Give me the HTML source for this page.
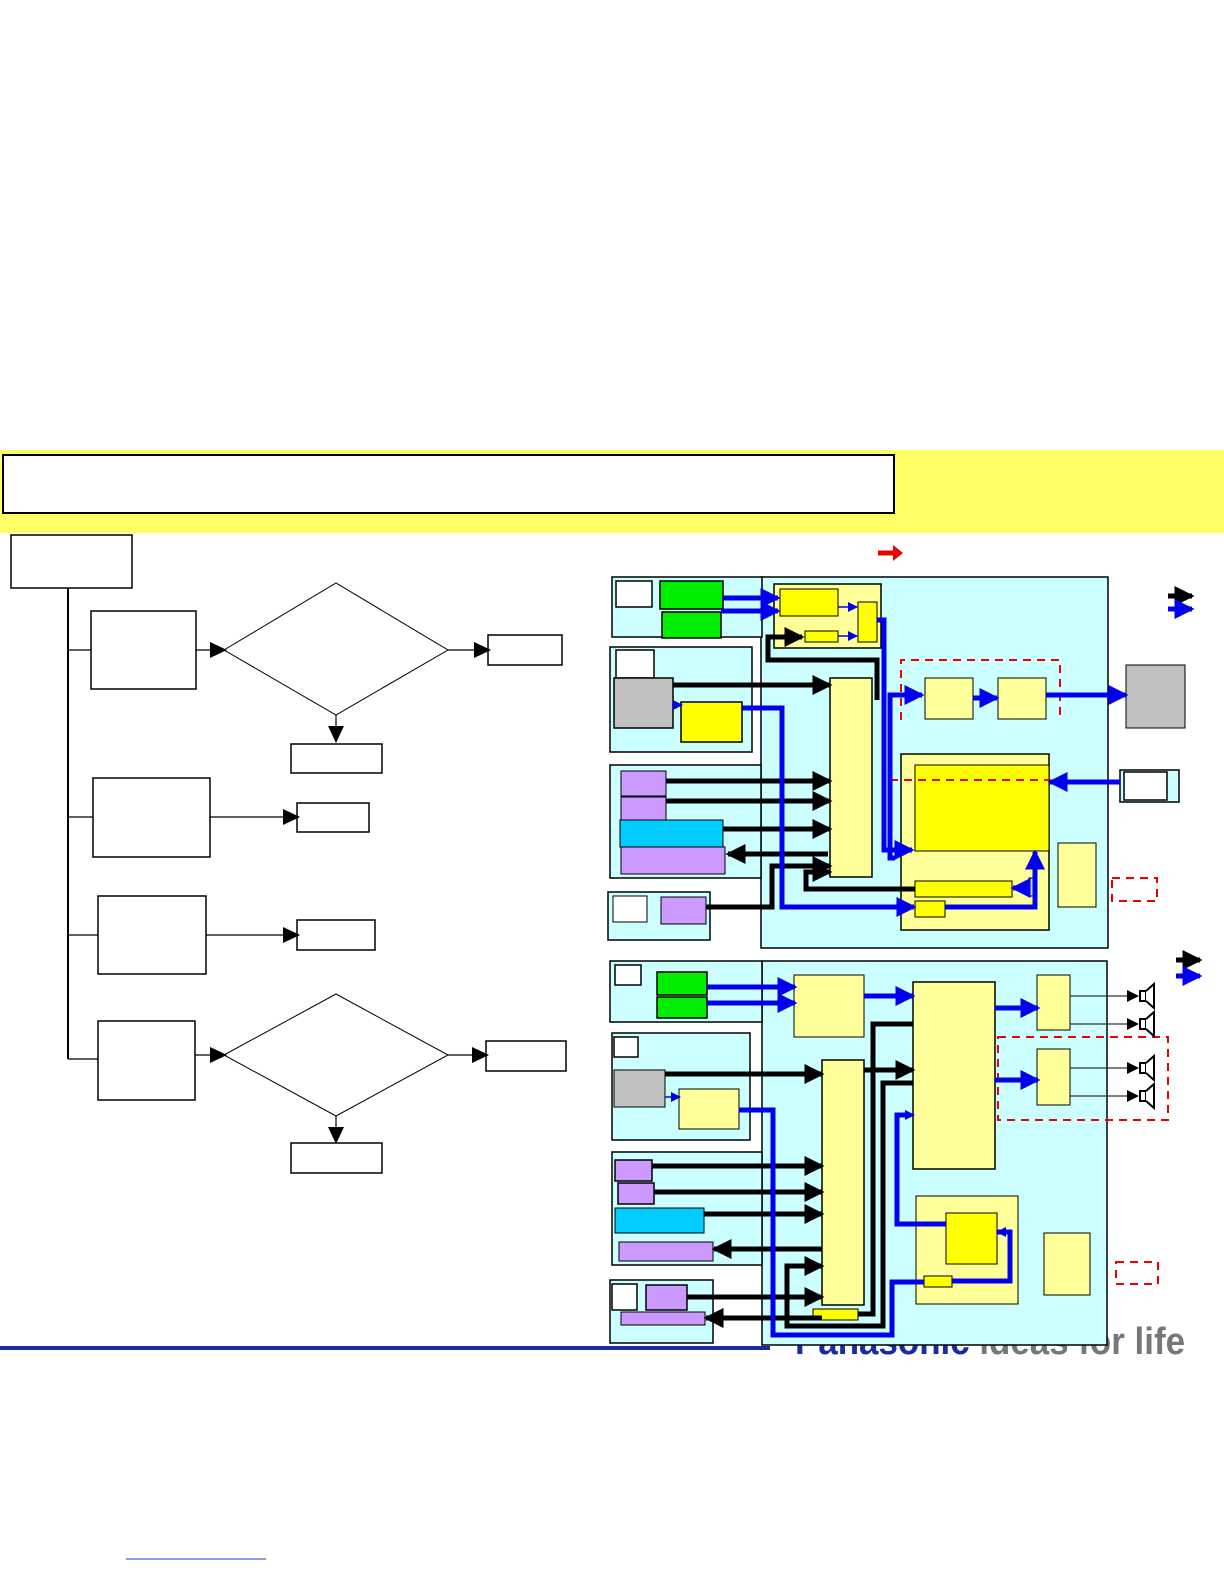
<!DOCTYPE html>
<html><head><meta charset="utf-8"><style>
html,body{margin:0;padding:0;background:#fff;}
svg{display:block;font-family:"Liberation Sans",sans-serif;}
</style></head><body>
<svg width="1224" height="1584" viewBox="0 0 1224 1584" xmlns="http://www.w3.org/2000/svg">
<defs>
<marker id="ak" markerWidth="4" markerHeight="4" refX="3.5" refY="2" orient="auto" markerUnits="strokeWidth"><path d="M0,0 L4,2 L0,4 z" fill="#000"/></marker>
<marker id="ab" markerWidth="4" markerHeight="4" refX="3.5" refY="2" orient="auto" markerUnits="strokeWidth"><path d="M0,0 L4,2 L0,4 z" fill="#0000ee"/></marker>
<marker id="at" markerWidth="12" markerHeight="12" refX="11" refY="6" orient="auto" markerUnits="userSpaceOnUse"><path d="M0,0 L12,6 L0,12 z" fill="#000"/></marker>
<marker id="abt" markerWidth="10" markerHeight="10" refX="9" refY="5" orient="auto" markerUnits="userSpaceOnUse"><path d="M0,0 L10,5 L0,10 z" fill="#0000ee"/></marker>
<marker id="af" markerWidth="18" markerHeight="18" refX="16" refY="9" orient="auto" markerUnits="userSpaceOnUse"><path d="M0,1 L17,9 L0,17 z" fill="#000"/></marker>
</defs>

<rect x="0" y="450" width="1224" height="83" fill="#ffff66"/>
<rect x="3" y="455" width="891" height="58" fill="#fff" stroke="#000" stroke-width="2"/>

<g fill="#fff" stroke="#000" stroke-width="1.5">
<rect x="11" y="535" width="121" height="53"/>
<rect x="91" y="611" width="105" height="78"/>
<rect x="93" y="778" width="117" height="79"/>
<rect x="98" y="896" width="108" height="78"/>
<rect x="98" y="1021" width="97" height="79"/>
<rect x="488" y="635" width="74" height="30"/>
<rect x="291" y="744" width="91" height="29"/>
<rect x="297" y="803" width="72" height="29"/>
<rect x="297" y="920" width="78" height="30"/>
<rect x="486" y="1041" width="80" height="30"/>
<rect x="291" y="1143" width="91" height="30"/>
<polygon points="224,650 336,583 448,650 336,715" stroke-width="1"/>
<polygon points="224,1055 336,994 448,1055 336,1116" stroke-width="1"/>
</g>
<g stroke="#000" stroke-width="1.2" fill="none">
<line x1="68" y1="588" x2="68" y2="1059" stroke-width="2"/>
<line x1="68" y1="650" x2="91" y2="650"/>
<line x1="68" y1="817" x2="93" y2="817"/>
<line x1="68" y1="935" x2="98" y2="935"/>
<line x1="68" y1="1059" x2="98" y2="1059"/>
<line x1="196" y1="650" x2="226" y2="650" marker-end="url(#af)"/>
<line x1="448" y1="650" x2="490" y2="650" marker-end="url(#af)"/>
<line x1="336" y1="715" x2="336" y2="742" marker-end="url(#af)"/>
<line x1="210" y1="817" x2="299" y2="817" marker-end="url(#af)"/>
<line x1="206" y1="935" x2="299" y2="935" marker-end="url(#af)"/>
<line x1="195" y1="1055" x2="226" y2="1055" marker-end="url(#af)"/>
<line x1="448" y1="1055" x2="488" y2="1055" marker-end="url(#af)"/>
<line x1="336" y1="1116" x2="336" y2="1143" marker-end="url(#af)"/>
</g>

<line x1="0" y1="1348" x2="770" y2="1348" stroke="#1a2aa0" stroke-width="4"/>
<text x="795" y="1354" font-size="38" font-weight="bold" fill="#1a2aa0" textLength="390" lengthAdjust="spacingAndGlyphs">Panasonic <tspan fill="#777">ideas for life</tspan></text>
<line x1="126" y1="1559" x2="266" y2="1559" stroke="#2233cc" stroke-width="1"/>

<line x1="878" y1="553" x2="894" y2="553" stroke="#ee0000" stroke-width="5"/>
<path d="M893,545 L903,553 L893,561z" fill="#ee0000"/>
<line x1="1168" y1="596" x2="1192" y2="596" stroke="#000" stroke-width="5" marker-end="url(#ak)"/>
<line x1="1168" y1="609" x2="1192" y2="609" stroke="#0000ee" stroke-width="5" marker-end="url(#ab)"/>
<line x1="1176" y1="960" x2="1200" y2="960" stroke="#000" stroke-width="5" marker-end="url(#ak)"/>
<line x1="1176" y1="976" x2="1200" y2="976" stroke="#0000ee" stroke-width="5" marker-end="url(#ab)"/>

<!-- TOP DIAGRAM -->
<rect x="761" y="577" width="347" height="371" fill="#ccffff" stroke="#000" stroke-width="1.5"/>
<g stroke="#000" stroke-width="1.5" fill="#ccffff">
<rect x="612" y="577" width="150" height="60"/>
<rect x="610" y="647" width="142" height="105"/>
<rect x="610" y="765" width="151" height="113"/>
<rect x="608" y="892" width="102" height="48"/>
<rect x="1120" y="770" width="59" height="32"/>
</g>
<g stroke="#000" stroke-width="1.5">
<rect x="616" y="581" width="36" height="26" fill="#fff"/>
<rect x="660" y="581" width="63" height="28" fill="#00ee00"/>
<rect x="662" y="612" width="59" height="26" fill="#00ee00"/>
<rect x="616" y="650" width="38" height="28" fill="#fff"/>
<rect x="614" y="678" width="59" height="50" fill="#c0c0c0"/>
<rect x="681" y="702" width="61" height="40" fill="#ffff00"/>
<rect x="621" y="771" width="45" height="25" fill="#cc99ff" stroke-width="1"/>
<rect x="621" y="797" width="45" height="23" fill="#cc99ff" stroke-width="1"/>
<rect x="620" y="820" width="103" height="27" fill="#00ccff" stroke-width="1"/>
<rect x="621" y="847" width="104" height="27" fill="#cc99ff" stroke-width="1"/>
<rect x="613" y="896" width="34" height="26" fill="#fff" stroke-width="1"/>
<rect x="661" y="897" width="45" height="27" fill="#cc99ff" stroke-width="1"/>
<rect x="774" y="584" width="107" height="64" fill="#ffff99"/>
<rect x="780" y="589" width="58" height="27" fill="#ffff00" stroke-width="1"/>
<rect x="805" y="631" width="33" height="11" fill="#ffff00" stroke-width="1"/>
<rect x="858" y="602" width="19" height="40" fill="#ffff00" stroke-width="1"/>
<rect x="830" y="678" width="42" height="199" fill="#ffff99"/>
<rect x="925" y="678" width="48" height="41" fill="#ffff99" stroke-width="1"/>
<rect x="998" y="678" width="48" height="41" fill="#ffff99" stroke-width="1"/>
<rect x="1126" y="665" width="59" height="63" fill="#c0c0c0" stroke-width="1"/>
<rect x="901" y="754" width="148" height="176" fill="#ffff99"/>
<rect x="915" y="765" width="134" height="86" fill="#ffff00" stroke-width="1"/>
<rect x="1124" y="772" width="43" height="28" fill="#fff"/>
<rect x="915" y="881" width="97" height="16" fill="#ffff00" stroke-width="1"/>
<rect x="1029" y="878" width="8" height="18" fill="#ccc" stroke-width="1"/>
<rect x="915" y="901" width="30" height="16" fill="#ffff00" stroke-width="1"/>
<rect x="1058" y="843" width="38" height="64" fill="#ffff99" stroke-width="1"/>
</g>
<g fill="none" stroke="#ee0000" stroke-width="2" stroke-dasharray="8,6">
<path d="M901,720 L901,660 L1060,660 L1060,720"/>
<line x1="890" y1="780" x2="1049" y2="780"/>
<rect x="1112" y="878" width="45" height="23"/>
</g>
<g fill="none" stroke="#000" stroke-width="5">
<line x1="673" y1="685" x2="830" y2="685" marker-end="url(#ak)"/>
<line x1="666" y1="781" x2="830" y2="781" marker-end="url(#ak)"/>
<line x1="666" y1="801" x2="830" y2="801" marker-end="url(#ak)"/>
<line x1="723" y1="829" x2="830" y2="829" marker-end="url(#ak)"/>
<line x1="828" y1="854" x2="728" y2="854" marker-end="url(#ak)"/>
<path d="M706,907 L772,907 L772,866 L830,866" marker-end="url(#ak)"/>
<path d="M915,889 L806,889 L806,872 L830,872" marker-end="url(#ak)"/>
<path d="M877,700 L877,660 L768,660 L768,637 L802,637" marker-end="url(#ak)"/>
</g>
<g fill="none" stroke="#0000ee" stroke-width="5">
<line x1="723" y1="598" x2="778" y2="598" marker-end="url(#ab)"/>
<line x1="721" y1="611" x2="778" y2="611" marker-end="url(#ab)"/>
<path d="M877,620 L884,620 L884,850 L912,850" marker-end="url(#ab)"/>
<path d="M742,708 L782,708 L782,907 L914,907" marker-end="url(#ab)"/>
<path d="M895,858 L890,858 L890,695 L922,695" marker-end="url(#ab)"/>
<line x1="973" y1="698" x2="997" y2="698" marker-end="url(#ab)"/>
<line x1="1046" y1="695" x2="1126" y2="695" marker-end="url(#ab)"/>
<line x1="1120" y1="782" x2="1050" y2="782" marker-end="url(#ab)"/>
<path d="M945,907 L1035,907 L1035,852" marker-end="url(#ab)"/>
<line x1="1029" y1="888" x2="1013" y2="888" marker-end="url(#ab)"/>
</g>
<g stroke="#0000ee" stroke-width="1.5">
<line x1="838" y1="607" x2="857" y2="607" marker-end="url(#abt)"/>
<line x1="838" y1="636" x2="857" y2="636" marker-end="url(#abt)"/>
<line x1="673" y1="705" x2="682" y2="705" marker-end="url(#abt)"/>
</g>

<!-- BOTTOM DIAGRAM -->
<rect x="762" y="961" width="345" height="384" fill="#ccffff" stroke="#000" stroke-width="1.5"/>
<g stroke="#000" stroke-width="1.5" fill="#ccffff">
<rect x="610" y="961" width="152" height="61"/>
<rect x="612" y="1033" width="138" height="107"/>
<rect x="612" y="1152" width="150" height="113"/>
<rect x="610" y="1280" width="103" height="63"/>
</g>
<g stroke="#000" stroke-width="1.5">
<rect x="615" y="965" width="26" height="20" fill="#fff"/>
<rect x="657" y="972" width="50" height="23" fill="#00ee00"/>
<rect x="657" y="997" width="50" height="21" fill="#00ee00"/>
<rect x="614" y="1037" width="24" height="20" fill="#fff"/>
<rect x="614" y="1070" width="51" height="37" fill="#c0c0c0" stroke-width="1"/>
<rect x="679" y="1089" width="60" height="40" fill="#ffff99" stroke-width="1"/>
<rect x="615" y="1160" width="37" height="21" fill="#cc99ff"/>
<rect x="618" y="1183" width="36" height="21" fill="#cc99ff"/>
<rect x="615" y="1208" width="89" height="25" fill="#00ccff" stroke-width="1"/>
<rect x="619" y="1242" width="94" height="19" fill="#cc99ff" stroke-width="1"/>
<rect x="612" y="1284" width="25" height="26" fill="#fff"/>
<rect x="646" y="1285" width="41" height="25" fill="#cc99ff"/>
<rect x="621" y="1312" width="84" height="13" fill="#cc99ff" stroke-width="1"/>
<rect x="794" y="975" width="70" height="62" fill="#ffff99" stroke-width="1"/>
<rect x="822" y="1060" width="42" height="245" fill="#ffff99"/>
<rect x="913" y="982" width="82" height="187" fill="#ffff99"/>
<rect x="1037" y="975" width="33" height="55" fill="#ffff99" stroke-width="1"/>
<rect x="1037" y="1049" width="33" height="56" fill="#ffff99" stroke-width="1"/>
<rect x="916" y="1196" width="102" height="108" fill="#ffff99" stroke-width="1"/>
<rect x="946" y="1213" width="51" height="51" fill="#ffff00" stroke-width="1"/>
<rect x="924" y="1276" width="28" height="11" fill="#ffff00" stroke-width="1"/>
<rect x="1044" y="1233" width="46" height="62" fill="#ffff99" stroke-width="1"/>
<rect x="813" y="1309" width="45" height="11" fill="#ffff00" stroke-width="1"/>
</g>
<g fill="none" stroke="#ee0000" stroke-width="2" stroke-dasharray="8,6">
<rect x="998" y="1037" width="170" height="83"/>
<rect x="1116" y="1262" width="42" height="22"/>
</g>
<g fill="none" stroke="#000" stroke-width="5">
<line x1="665" y1="1074" x2="822" y2="1074" marker-end="url(#ak)"/>
<line x1="652" y1="1166" x2="822" y2="1166" marker-end="url(#ak)"/>
<line x1="654" y1="1192" x2="822" y2="1192" marker-end="url(#ak)"/>
<line x1="704" y1="1214" x2="822" y2="1214" marker-end="url(#ak)"/>
<line x1="822" y1="1249" x2="714" y2="1249" marker-end="url(#ak)"/>
<line x1="687" y1="1297" x2="822" y2="1297" marker-end="url(#ak)"/>
<line x1="822" y1="1318" x2="706" y2="1318" marker-end="url(#ak)"/>
<line x1="864" y1="1070" x2="913" y2="1070" marker-end="url(#ak)"/>
<path d="M858,1314 L873,1314 L873,1024 L913,1024"/>
<path d="M787,1314 L787,1266 L822,1266" marker-end="url(#ak)"/>
<path d="M787,1312 L787,1326 L883,1326 L883,1083 L913,1083"/>
</g>
<g fill="none" stroke="#0000ee" stroke-width="5">
<line x1="707" y1="987" x2="795" y2="987" marker-end="url(#ab)"/>
<line x1="707" y1="1003" x2="795" y2="1003" marker-end="url(#ab)"/>
<line x1="864" y1="996" x2="913" y2="996" marker-end="url(#ab)"/>
<line x1="995" y1="1008" x2="1038" y2="1008" marker-end="url(#ab)"/>
<line x1="995" y1="1080" x2="1038" y2="1080" marker-end="url(#ab)"/>
<path d="M739,1110 L773,1110 L773,1335 L892,1335 L892,1282 L924,1282"/>
<path d="M952,1281 L1010,1281 L1010,1232 L997,1232"/>
<path d="M946,1224 L897,1224 L897,1115 L908,1115"/>
</g>
<g stroke="#0000ee" stroke-width="1.5">
<line x1="665" y1="1097" x2="680" y2="1097" marker-end="url(#abt)"/>
<line x1="903" y1="1115" x2="914" y2="1115" marker-end="url(#abt)"/>
<line x1="1006" y1="1232" x2="997" y2="1232" marker-end="url(#abt)"/>
</g>
<g stroke="#333" stroke-width="1.2" fill="#fff">
<line x1="1070" y1="996" x2="1138" y2="996" marker-end="url(#at)"/>
<line x1="1070" y1="1024" x2="1138" y2="1024" marker-end="url(#at)"/>
<line x1="1070" y1="1068" x2="1138" y2="1068" marker-end="url(#at)"/>
<line x1="1070" y1="1096" x2="1138" y2="1096" marker-end="url(#at)"/>
</g>
<g stroke="#000" stroke-width="2" fill="#fff">
<g transform="translate(1140,996)"><rect x="0" y="-5" width="6" height="10"/><path d="M6,-5 L14,-12 L14,12 L6,5"/></g>
<g transform="translate(1140,1024)"><rect x="0" y="-5" width="6" height="10"/><path d="M6,-5 L14,-12 L14,12 L6,5"/></g>
<g transform="translate(1140,1068)"><rect x="0" y="-5" width="6" height="10"/><path d="M6,-5 L14,-12 L14,12 L6,5"/></g>
<g transform="translate(1140,1096)"><rect x="0" y="-5" width="6" height="10"/><path d="M6,-5 L14,-12 L14,12 L6,5"/></g>
</g>
</svg>
</body></html>
